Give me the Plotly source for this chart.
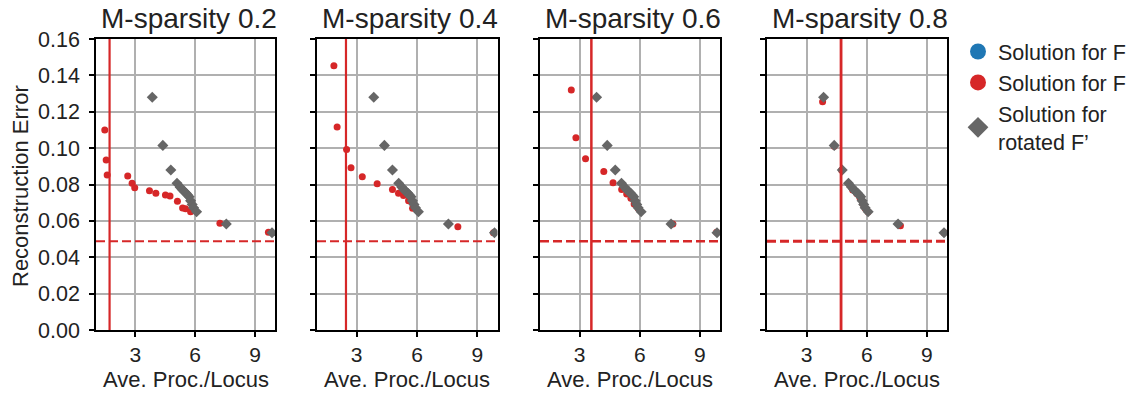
import plotly.graph_objects as go

# ---------------- data ----------------
panel_titles = ["M-sparsity 0.2", "M-sparsity 0.4", "M-sparsity 0.6", "M-sparsity 0.8"]

red_x = [
    [1.47, 1.54, 1.59, 2.62, 2.84, 2.97, 3.71, 4.03, 4.51, 4.74, 5.11, 5.37, 5.52, 5.77, 7.24, 9.67],
    [1.87, 2.03, 2.50, 2.72, 3.28, 4.02, 4.78, 5.08, 5.33, 5.58, 5.78, 8.03, 9.80],
    [2.59, 2.82, 3.30, 4.21, 4.67, 5.10, 5.35, 5.56, 5.72, 5.92, 7.65, 9.83],
    [3.80, 4.38, 4.75, 5.10, 5.30, 5.50, 5.65, 5.80, 5.92, 6.07, 7.68, 9.85],
]
red_y = [
    [0.110, 0.0935, 0.0852, 0.0847, 0.0807, 0.0782, 0.0766, 0.0752, 0.0742, 0.0737, 0.0708, 0.0671, 0.0667, 0.0650, 0.0587, 0.0537],
    [0.1453, 0.1116, 0.0993, 0.0892, 0.0843, 0.0804, 0.0773, 0.0752, 0.0739, 0.0711, 0.0669, 0.0568, 0.0535],
    [0.132, 0.1057, 0.0942, 0.0872, 0.0810, 0.0773, 0.0748, 0.0724, 0.0693, 0.0669, 0.0583, 0.0537],
    [0.1255, 0.1010, 0.0878, 0.0805, 0.0770, 0.0750, 0.0730, 0.0695, 0.0670, 0.0650, 0.0573, 0.0535],
]

gray_x = [3.85, 4.38, 4.78, 5.09, 5.25, 5.35, 5.45, 5.55, 5.62, 5.70, 5.77, 5.85, 5.92, 6.07, 7.56, 9.85]
gray_y = [0.128, 0.1015, 0.088, 0.0807, 0.0785, 0.0772, 0.0762, 0.0752, 0.0742, 0.0733, 0.0710, 0.0690, 0.0672, 0.0650, 0.0583, 0.0535]

threshold_x = [1.71, 2.47, 3.59, 4.72]
baseline_y = 0.0488

x_ticks = [3, 6, 9]
y_ticks = [0.0, 0.02, 0.04, 0.06, 0.08, 0.10, 0.12, 0.14, 0.16]

# ---------------- style ----------------
W, H = 1140, 394
RED = "#d62728"
BLUE = "#1f77b4"
GRAY = "#666666"
GRID = "#b0b0b0"
TXT = "#222222"
FONT = "Liberation Sans, Arial, sans-serif"

panel_px = [(96, 275), (317, 497.5), (540, 720), (767, 947)]
plot_top, plot_bottom = 39, 330
dash_widths = [2, 2, 2.5, 3]
vline_widths = [2.2, 2.2, 2.5, 2.8]

fig = go.Figure()

for i in range(4):
    xa = "x" if i == 0 else f"x{i+1}"
    ya = "y" if i == 0 else f"y{i+1}"
    fig.add_trace(go.Scatter(
        x=red_x[i], y=red_y[i], mode="markers", xaxis=xa, yaxis=ya,
        marker=dict(color=RED, size=7, symbol="circle", line=dict(width=0)),
        showlegend=False, hoverinfo="skip"))
    fig.add_trace(go.Scatter(
        x=gray_x, y=gray_y, mode="markers", xaxis=xa, yaxis=ya,
        marker=dict(color=GRAY, size=8.5, symbol="diamond", line=dict(width=0)),
        showlegend=False, hoverinfo="skip"))

# legend-only entries
fig.add_trace(go.Scatter(x=[None], y=[None], mode="markers", name="Solution for F",
                         marker=dict(color=BLUE, size=16, symbol="circle")))
fig.add_trace(go.Scatter(x=[None], y=[None], mode="markers", name="Solution for F",
                         marker=dict(color=RED, size=16, symbol="circle")))
fig.add_trace(go.Scatter(x=[None], y=[None], mode="markers", name="Solution for<br>rotated F\u2019",
                         marker=dict(color=GRAY, size=16, symbol="diamond")))

layout = dict(
    width=W, height=H,
    margin=dict(l=0, r=0, t=0, b=0),
    template="none",
    paper_bgcolor="white", plot_bgcolor="white",
    font=dict(family=FONT, color=TXT, size=21),
    legend=dict(x=(980 - 22) / W, y=1 - 31 / H, xanchor="left", yanchor="top",
                font=dict(size=21.5, family=FONT, color=TXT),
                bgcolor="rgba(0,0,0,0)", borderwidth=0, tracegroupgap=0,
                itemsizing="trace"),
    shapes=[], annotations=[],
)

y_dom = [1 - plot_bottom / H, 1 - plot_top / H]
for i in range(4):
    sfx = "" if i == 0 else str(i + 1)
    x0, x1 = panel_px[i]
    layout["xaxis" + sfx] = dict(
        domain=[x0 / W, x1 / W], anchor="y" + sfx, range=[1.03, 10.0],
        tickvals=x_ticks, ticks="outside", ticklen=5, tickwidth=1.5, tickcolor="black",
        showline=True, linecolor="black", linewidth=1.5, mirror=True,
        showgrid=True, gridcolor=GRID, gridwidth=1.5, zeroline=False,
        tickfont=dict(size=21, family=FONT, color=TXT), automargin=False)
    layout["yaxis" + sfx] = dict(
        domain=y_dom, anchor="x" + sfx, range=[0, 0.16],
        tickvals=y_ticks, tickformat=".2f", showticklabels=(i == 0),
        ticks="outside", ticklen=5, tickwidth=1.5, tickcolor="black",
        ticklabelstandoff=5,
        showline=True, linecolor="black", linewidth=1.5, mirror=True,
        showgrid=True, gridcolor=GRID, gridwidth=1.5, zeroline=False,
        tickfont=dict(size=21.5, family=FONT, color=TXT), automargin=False)

    xref = "x" + sfx
    yref = "y" + sfx
    layout["shapes"].append(dict(
        type="line", xref=xref, yref=yref + " domain", x0=threshold_x[i], x1=threshold_x[i],
        y0=0, y1=1, line=dict(color=RED, width=vline_widths[i])))
    layout["shapes"].append(dict(
        type="line", xref=xref + " domain", yref=yref, x0=0, x1=1,
        y0=baseline_y, y1=baseline_y, line=dict(color=RED, width=dash_widths[i], dash="9px,4px")))

    cx = (x0 + x1) / 2 / W
    layout["annotations"].append(dict(
        text=panel_titles[i], xref="paper", yref="paper", x=cx + 3 / W, y=1 - 19 / H,
        xanchor="center", yanchor="middle", showarrow=False,
        font=dict(size=28, family=FONT, color=TXT)))
    layout["annotations"].append(dict(
        text="Ave. Proc./Locus", xref="paper", yref="paper", x=cx, y=1 - 379 / H,
        xanchor="center", yanchor="middle", showarrow=False,
        font=dict(size=22, family=FONT, color=TXT)))

layout["annotations"].append(dict(
    text="Reconstruction Error", xref="paper", yref="paper", x=20 / W, y=1 - 186 / H,
    xanchor="center", yanchor="middle", textangle=-90, showarrow=False,
    font=dict(size=22, family=FONT, color=TXT)))

fig.update_layout(**layout)
fig.write_html("out.html")
